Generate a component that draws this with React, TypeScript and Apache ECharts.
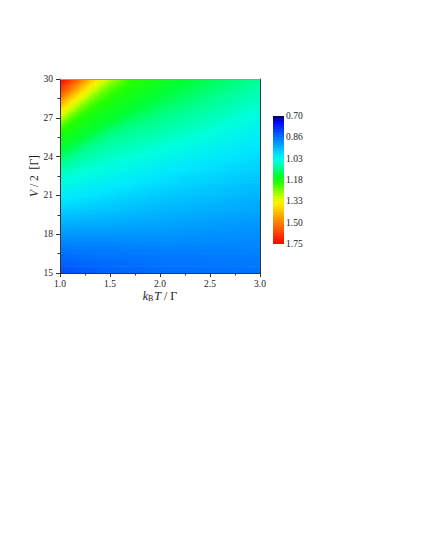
import React, { useEffect, useRef } from "react";
import * as echarts from "echarts";

// kB T / Γ sample positions
const X_VALUES = [1.0, 1.1, 1.2, 1.3, 1.4, 1.5, 1.6, 1.7, 1.8, 1.9, 2.0, 2.1, 2.2, 2.3, 2.4, 2.5, 2.6, 2.7, 2.8, 2.9, 3.0];
// V / 2 [Γ] sample positions
const V_VALUES = [15, 15.5, 16, 16.5, 17, 17.5, 18, 18.5, 19, 19.5, 20, 20.5, 21, 21.5, 22, 22.5, 23, 23.5, 24, 24.5, 25, 25.5, 26, 26.5, 27, 27.5, 28, 28.5, 29, 29.5, 30];
// field values, one row per V value (columns follow X_VALUES)
const Z_ROWS = [
  [0.820, 0.826, 0.832, 0.837, 0.842, 0.846, 0.848, 0.849, 0.850, 0.853, 0.856, 0.857, 0.858, 0.859, 0.860, 0.860, 0.861, 0.861, 0.862, 0.862, 0.862],
  [0.835, 0.840, 0.844, 0.847, 0.850, 0.852, 0.854, 0.856, 0.857, 0.860, 0.862, 0.863, 0.864, 0.864, 0.865, 0.865, 0.866, 0.866, 0.867, 0.868, 0.868],
  [0.850, 0.853, 0.855, 0.857, 0.859, 0.860, 0.862, 0.863, 0.865, 0.866, 0.868, 0.869, 0.869, 0.870, 0.870, 0.871, 0.871, 0.872, 0.873, 0.873, 0.874],
  [0.862, 0.864, 0.865, 0.867, 0.868, 0.868, 0.870, 0.871, 0.872, 0.873, 0.874, 0.874, 0.875, 0.875, 0.876, 0.877, 0.877, 0.878, 0.879, 0.879, 0.880],
  [0.875, 0.876, 0.876, 0.877, 0.877, 0.878, 0.879, 0.881, 0.882, 0.883, 0.884, 0.884, 0.884, 0.884, 0.884, 0.884, 0.885, 0.885, 0.885, 0.885, 0.885],
  [0.892, 0.892, 0.892, 0.892, 0.892, 0.892, 0.893, 0.893, 0.894, 0.895, 0.895, 0.895, 0.894, 0.893, 0.893, 0.892, 0.892, 0.892, 0.891, 0.891, 0.891],
  [0.908, 0.908, 0.907, 0.907, 0.906, 0.906, 0.906, 0.906, 0.906, 0.906, 0.906, 0.905, 0.903, 0.902, 0.901, 0.900, 0.899, 0.898, 0.898, 0.897, 0.897],
  [0.925, 0.924, 0.923, 0.922, 0.921, 0.921, 0.919, 0.918, 0.917, 0.917, 0.916, 0.914, 0.913, 0.912, 0.910, 0.909, 0.908, 0.906, 0.905, 0.904, 0.903],
  [0.942, 0.940, 0.939, 0.938, 0.936, 0.935, 0.933, 0.931, 0.929, 0.927, 0.926, 0.924, 0.923, 0.921, 0.919, 0.918, 0.916, 0.915, 0.913, 0.912, 0.911],
  [0.960, 0.957, 0.955, 0.953, 0.951, 0.950, 0.946, 0.943, 0.940, 0.938, 0.936, 0.934, 0.932, 0.930, 0.928, 0.927, 0.925, 0.923, 0.921, 0.920, 0.918],
  [0.980, 0.975, 0.972, 0.968, 0.966, 0.963, 0.959, 0.955, 0.952, 0.949, 0.946, 0.944, 0.942, 0.940, 0.938, 0.936, 0.933, 0.931, 0.929, 0.928, 0.926],
  [1.000, 0.993, 0.988, 0.984, 0.980, 0.976, 0.972, 0.967, 0.964, 0.960, 0.957, 0.954, 0.951, 0.949, 0.947, 0.945, 0.942, 0.940, 0.937, 0.935, 0.933],
  [1.015, 1.009, 1.004, 0.999, 0.994, 0.989, 0.984, 0.980, 0.975, 0.971, 0.967, 0.964, 0.961, 0.959, 0.956, 0.954, 0.951, 0.948, 0.945, 0.943, 0.941],
  [1.029, 1.023, 1.018, 1.012, 1.007, 1.003, 0.997, 0.992, 0.987, 0.982, 0.978, 0.975, 0.972, 0.969, 0.966, 0.963, 0.960, 0.957, 0.954, 0.951, 0.948],
  [1.044, 1.038, 1.031, 1.026, 1.020, 1.015, 1.010, 1.004, 0.999, 0.994, 0.989, 0.985, 0.982, 0.978, 0.975, 0.972, 0.969, 0.965, 0.962, 0.959, 0.956],
  [1.061, 1.052, 1.045, 1.039, 1.033, 1.028, 1.022, 1.017, 1.011, 1.006, 1.000, 0.996, 0.992, 0.988, 0.985, 0.981, 0.978, 0.974, 0.971, 0.968, 0.965],
  [1.079, 1.068, 1.059, 1.052, 1.046, 1.040, 1.035, 1.029, 1.024, 1.018, 1.013, 1.007, 1.002, 0.998, 0.994, 0.991, 0.987, 0.983, 0.979, 0.976, 0.973],
  [1.096, 1.084, 1.073, 1.065, 1.058, 1.052, 1.047, 1.042, 1.036, 1.031, 1.025, 1.019, 1.014, 1.009, 1.004, 1.000, 0.996, 0.992, 0.988, 0.984, 0.981],
  [1.122, 1.099, 1.088, 1.078, 1.070, 1.063, 1.058, 1.053, 1.049, 1.043, 1.038, 1.032, 1.026, 1.021, 1.016, 1.011, 1.005, 1.000, 0.996, 0.992, 0.989],
  [1.150, 1.126, 1.103, 1.091, 1.082, 1.074, 1.069, 1.064, 1.059, 1.054, 1.050, 1.044, 1.038, 1.032, 1.027, 1.022, 1.016, 1.010, 1.005, 1.001, 0.997],
  [1.165, 1.152, 1.130, 1.108, 1.093, 1.085, 1.079, 1.074, 1.069, 1.065, 1.060, 1.055, 1.050, 1.044, 1.038, 1.033, 1.026, 1.020, 1.015, 1.010, 1.005],
  [1.180, 1.167, 1.154, 1.134, 1.112, 1.096, 1.090, 1.085, 1.080, 1.075, 1.070, 1.065, 1.059, 1.054, 1.049, 1.043, 1.037, 1.030, 1.025, 1.019, 1.014],
  [1.200, 1.182, 1.168, 1.156, 1.138, 1.116, 1.102, 1.095, 1.090, 1.085, 1.080, 1.074, 1.069, 1.064, 1.059, 1.054, 1.047, 1.040, 1.034, 1.029, 1.023],
  [1.242, 1.200, 1.182, 1.169, 1.157, 1.142, 1.124, 1.111, 1.101, 1.095, 1.090, 1.084, 1.079, 1.073, 1.068, 1.063, 1.057, 1.050, 1.044, 1.038, 1.032],
  [1.299, 1.236, 1.198, 1.183, 1.170, 1.159, 1.146, 1.130, 1.118, 1.108, 1.100, 1.094, 1.088, 1.083, 1.077, 1.072, 1.066, 1.059, 1.053, 1.047, 1.041],
  [1.362, 1.284, 1.230, 1.197, 1.183, 1.171, 1.160, 1.150, 1.135, 1.123, 1.114, 1.105, 1.098, 1.092, 1.087, 1.081, 1.075, 1.068, 1.062, 1.056, 1.050],
  [1.429, 1.343, 1.271, 1.225, 1.197, 1.184, 1.173, 1.161, 1.151, 1.139, 1.128, 1.118, 1.110, 1.102, 1.096, 1.091, 1.084, 1.077, 1.071, 1.065, 1.059],
  [1.500, 1.406, 1.325, 1.260, 1.222, 1.196, 1.184, 1.173, 1.163, 1.153, 1.142, 1.132, 1.123, 1.114, 1.107, 1.100, 1.093, 1.086, 1.080, 1.073, 1.067],
  [1.600, 1.480, 1.387, 1.310, 1.250, 1.218, 1.196, 1.184, 1.174, 1.164, 1.155, 1.145, 1.135, 1.126, 1.118, 1.110, 1.102, 1.095, 1.089, 1.082, 1.076],
  [1.700, 1.560, 1.450, 1.368, 1.297, 1.245, 1.217, 1.196, 1.185, 1.175, 1.166, 1.156, 1.148, 1.138, 1.129, 1.120, 1.112, 1.104, 1.098, 1.091, 1.084],
  [1.750, 1.660, 1.530, 1.420, 1.340, 1.290, 1.245, 1.205, 1.195, 1.185, 1.178, 1.165, 1.155, 1.150, 1.140, 1.130, 1.121, 1.113, 1.106, 1.100, 1.095],
];

// colour bar tick labels (equally spaced along the bar, top to bottom)
const CB_LABELS = ["0.70", "0.86", "1.03", "1.18", "1.33", "1.50", "1.75"];
const CB_VALUES = [0.70, 0.86, 1.03, 1.18, 1.33, 1.50, 1.75];

// colour ramp, evenly spaced from 0.70 to 1.75
const RAMP = [
  "#000050", "#0008ff", "#0038ff", "#0066ff", "#0092ff", "#00bcff", "#00e6ff",
  "#00ffdd", "#00ff88", "#00ff33", "#22ff00", "#77ff00", "#ccff00", "#fff000",
  "#ffcb00", "#ffa500", "#ff8000", "#ff6600", "#ff4d00", "#ff3300", "#ff1a00", "#ff0000",
];
const V_MIN = 0.7;
const V_MAX = 1.75;

const FONT = '"Liberation Serif", "Times New Roman", serif';
const AXIS_COLOR = "#333";

function rampColor(v: number): string {
  const t = Math.min(1, Math.max(0, (v - V_MIN) / (V_MAX - V_MIN)));
  return echarts.color.lerp(t, RAMP) as string;
}

export default function App() {
  const ref = useRef<HTMLDivElement>(null);

  useEffect(() => {
    if (!ref.current) return;
    const chart = echarts.init(ref.current, undefined, { renderer: "svg" });

    const nx = X_VALUES.length;
    const nv = V_VALUES.length;
    const cells: number[][] = [];
    V_VALUES.forEach((v, j) => {
      X_VALUES.forEach((x, i) => {
        cells.push([x, v, Z_ROWS[j][i]]);
      });
    });

    // colour bar bands: positions along the bar, value from the tick ladder
    const PER_SEG = 8;
    const nSeg = CB_VALUES.length - 1;
    const bands: number[][] = [];
    for (let k = 0; k < nSeg * PER_SEG; k++) {
      const p = (k + 0.5) / PER_SEG;
      const s = Math.floor(p);
      const f = p - s;
      bands.push([0.5, p, CB_VALUES[s] + (CB_VALUES[s + 1] - CB_VALUES[s]) * f]);
    }
    const halfBand = 0.5 / PER_SEG;

    const option: any = {
      animation: false,
      backgroundColor: "#ffffff",
      textStyle: { fontFamily: FONT },
      grid: [
        { left: 60, top: 79, width: 200, height: 194 },
        { left: 273, top: 116, width: 11, height: 128 },
      ],
      visualMap: {
        type: "continuous",
        show: false,
        min: V_MIN,
        max: V_MAX,
        dimension: 2,
        seriesIndex: [1],
        inRange: { color: RAMP },
      },
      xAxis: [
        {
          type: "value",
          gridIndex: 0,
          min: 1,
          max: 3,
          interval: 0.5,
          position: "bottom",
          axisLine: { show: true, onZero: false, lineStyle: { color: AXIS_COLOR, width: 1 } },
          axisTick: { show: true, inside: false, length: 4, lineStyle: { color: AXIS_COLOR } },
          minorTick: { show: true, splitNumber: 2, length: 2.5, lineStyle: { color: AXIS_COLOR } },
          splitLine: { show: false },
          axisLabel: {
            margin: 6,
            fontSize: 9.5,
            color: "#222",
            fontFamily: FONT,
            formatter: (v: number) => v.toFixed(1),
          },
          name: "{i|k}{s|B}{i|T}{n| / Γ}",
          nameLocation: "middle",
          nameGap: 14,
          nameTextStyle: {
            rich: {
              i: { fontFamily: FONT, fontStyle: "italic", fontSize: 12, color: "#222", lineHeight: 14 },
              s: { fontFamily: FONT, fontSize: 8, color: "#222", verticalAlign: "bottom", lineHeight: 8, padding: [0, 1, 0, 0] },
              n: { fontFamily: FONT, fontSize: 12, color: "#222", lineHeight: 14 },
            },
          },
          z: 5,
        },
        {
          type: "value",
          gridIndex: 0,
          min: 1,
          max: 3,
          position: "top",
          axisLine: { show: true, onZero: false, lineStyle: { color: "#999", width: 1 } },
          axisTick: { show: false },
          axisLabel: { show: false },
          splitLine: { show: false },
          z: 5,
        },
        {
          type: "value",
          gridIndex: 1,
          min: 0,
          max: 1,
          show: false,
        },
      ],
      yAxis: [
        {
          type: "value",
          gridIndex: 0,
          min: 15,
          max: 30,
          interval: 3,
          position: "left",
          axisLine: { show: true, onZero: false, lineStyle: { color: AXIS_COLOR, width: 1 } },
          axisTick: { show: true, inside: false, length: 4, lineStyle: { color: AXIS_COLOR } },
          minorTick: { show: true, splitNumber: 2, length: 2.5, lineStyle: { color: AXIS_COLOR } },
          splitLine: { show: false },
          axisLabel: { margin: 7, fontSize: 9.5, color: "#222", fontFamily: FONT },
          name: "{i|V}{n| / 2  [Γ]}",
          nameLocation: "middle",
          nameRotate: 90,
          nameGap: 20,
          nameTextStyle: {
            rich: {
              i: { fontFamily: FONT, fontStyle: "italic", fontSize: 11.5, color: "#222" },
              n: { fontFamily: FONT, fontSize: 11.5, color: "#222" },
            },
          },
          z: 5,
        },
        {
          type: "value",
          gridIndex: 0,
          min: 15,
          max: 30,
          position: "right",
          axisLine: { show: true, onZero: false, lineStyle: { color: AXIS_COLOR, width: 1 } },
          axisTick: { show: false },
          axisLabel: { show: false },
          splitLine: { show: false },
          z: 5,
        },
        {
          type: "value",
          gridIndex: 1,
          min: 0,
          max: nSeg,
          interval: 1,
          inverse: true,
          position: "right",
          axisLine: { show: false },
          axisTick: { show: false },
          splitLine: { show: false },
          axisLabel: {
            margin: 2,
            fontSize: 9.5,
            color: "#222",
            fontFamily: FONT,
            formatter: (v: number) => CB_LABELS[Math.round(v)] ?? "",
          },
        },
      ],
      series: [
        {
          // each tile spans from one sample to the next; shaded along its local gradient
          type: "custom",
          xAxisIndex: 0,
          yAxisIndex: 0,
          clip: true,
          silent: true,
          data: cells,
          encode: { x: 0, y: 1 },
          renderItem: (params: any, api: any) => {
            const idx = params.dataIndex;
            const j = Math.floor(idx / nx);
            const i = idx % nx;
            if (i >= nx - 1 || j >= nv - 1) return { type: "group", children: [] };
            const a = api.coord([X_VALUES[i], V_VALUES[j + 1]]);
            const b = api.coord([X_VALUES[i + 1], V_VALUES[j]]);
            const TL = Z_ROWS[j + 1][i];
            const TR = Z_ROWS[j + 1][i + 1];
            const BL = Z_ROWS[j][i];
            const BR = Z_ROWS[j][i + 1];
            const fc = (TL + TR + BL + BR) / 4;
            const gx = (TR - TL + (BR - BL)) / 2;
            const gy = (BL - TL + (BR - TR)) / 2;
            const g2 = gx * gx + gy * gy;
            let fill: any;
            if (g2 < 1e-10) {
              fill = rampColor(fc);
            } else {
              const R = (Math.abs(gx) + Math.abs(gy)) / 2;
              const dx = (R * gx) / g2;
              const dy = (R * gy) / g2;
              const stops = [];
              const N = 6;
              for (let k = 0; k <= N; k++) {
                const o = k / N;
                stops.push({ offset: o, color: rampColor(fc - R + 2 * R * o) });
              }
              fill = {
                type: "linear",
                x: 0.5 - dx,
                y: 0.5 - dy,
                x2: 0.5 + dx,
                y2: 0.5 + dy,
                colorStops: stops,
                global: false,
              };
            }
            return {
              type: "rect",
              shape: { x: a[0] - 0.3, y: a[1] - 0.3, width: b[0] - a[0] + 0.6, height: b[1] - a[1] + 0.6 },
              style: { fill, stroke: null },
            };
          },
        },
        {
          type: "custom",
          xAxisIndex: 2,
          yAxisIndex: 2,
          clip: true,
          silent: true,
          data: bands,
          encode: { x: 0, y: 1 },
          renderItem: (_params: any, api: any) => {
            const p = api.value(1);
            const a = api.coord([0, p - halfBand]);
            const b = api.coord([1, p + halfBand]);
            return {
              type: "rect",
              shape: { x: a[0], y: a[1] - 0.3, width: b[0] - a[0], height: b[1] - a[1] + 0.6 },
              style: { fill: api.visual("color"), stroke: null },
            };
          },
        },
      ],
    };

    chart.setOption(option);
    return () => {
      chart.dispose();
    };
  }, []);

  return (
    <div
      ref={ref}
      style={{ position: "absolute", left: 0, top: 0, width: 425, height: 550, background: "#fff" }}
    />
  );
}
